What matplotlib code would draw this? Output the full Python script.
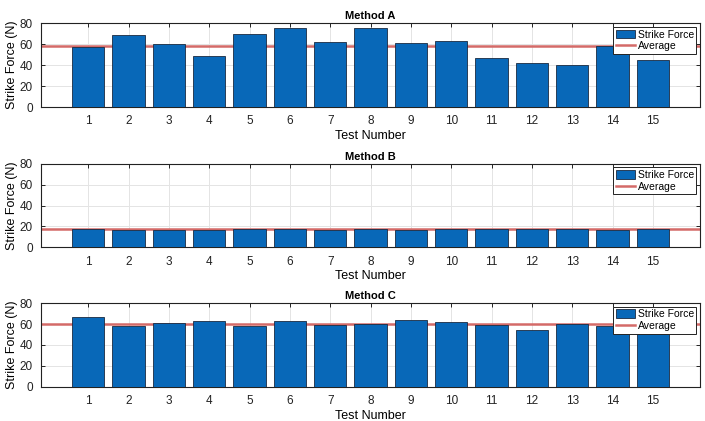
import matplotlib
matplotlib.use("Agg")
import matplotlib.pyplot as plt
import numpy as np

plt.rcParams['font.family'] = ['Liberation Sans', 'DejaVu Sans']

tests = list(range(1, 16))
method_a = [57.5, 69.1, 60.7, 48.8, 70.0, 75.2, 62.3, 76.1, 61.4, 63.6, 46.9, 42.4, 39.8, 58.5, 45.3]
method_b = [17.5, 16.8, 16.8, 16.8, 17.1, 17.5, 16.8, 17.1, 16.8, 17.1, 17.8, 17.5, 17.1, 16.8, 17.1]
method_c = [66.3, 58.1, 61.3, 62.5, 58.1, 62.5, 59.4, 60.3, 63.8, 61.6, 59.4, 54.0, 60.0, 58.1, 57.0]
titles = ["Method A", "Method B", "Method C"]
yticks = [0, 20, 40, 60, 80]

bar_color = '#0868B8'
avg_color = '#D46A68'

fig = plt.figure(figsize=(7.05, 4.21), dpi=100)
left, width, height = 0.0582, 0.9348, 0.1985
bottoms = [0.7458, 0.4126, 0.0815]

for vals, title, b in zip([method_a, method_b, method_c], titles, bottoms):
    ax = fig.add_axes([left, b, width, height])
    ax.set_axisbelow(True)
    ax.grid(True, color='#E4E4E4', linewidth=0.7)
    bars = ax.bar(tests, vals, width=0.8, color=bar_color, edgecolor='#1A2A40',
                  linewidth=0.6, label='Strike Force', zorder=3)
    avg = float(np.mean(vals))
    line = ax.axhline(avg, color=avg_color, linewidth=1.8, label='Average', zorder=2)
    ax.set_xlim(-0.17, 16.17)
    ax.set_ylim(0, 80)
    ax.set_xticks(tests)
    ax.set_yticks(yticks)
    ax.tick_params(direction='in', top=True, right=True, labelsize=8.5,
                   length=3, width=0.7, colors='#222222', pad=6)
    for s in ax.spines.values():
        s.set_linewidth(0.8)
        s.set_color('#222222')
    ax.set_title(title, fontsize=8, fontweight='bold', pad=3)
    ax.set_xlabel('Test Number', fontsize=9, labelpad=2)
    ax.set_ylabel('Strike Force (N)', fontsize=9, labelpad=1)
    leg = ax.legend([bars, line], ['Strike Force', 'Average'], loc='upper right',
                    fontsize=7.5, frameon=True, fancybox=False,
                    edgecolor='#222222', framealpha=1, borderpad=0.25,
                    handlelength=1.9, handleheight=0.9, handletextpad=0.2,
                    labelspacing=0.15, borderaxespad=0.35)
    leg.get_frame().set_linewidth(0.7)
    leg.set_zorder(5)

fig.savefig('out.png', dpi=100)
